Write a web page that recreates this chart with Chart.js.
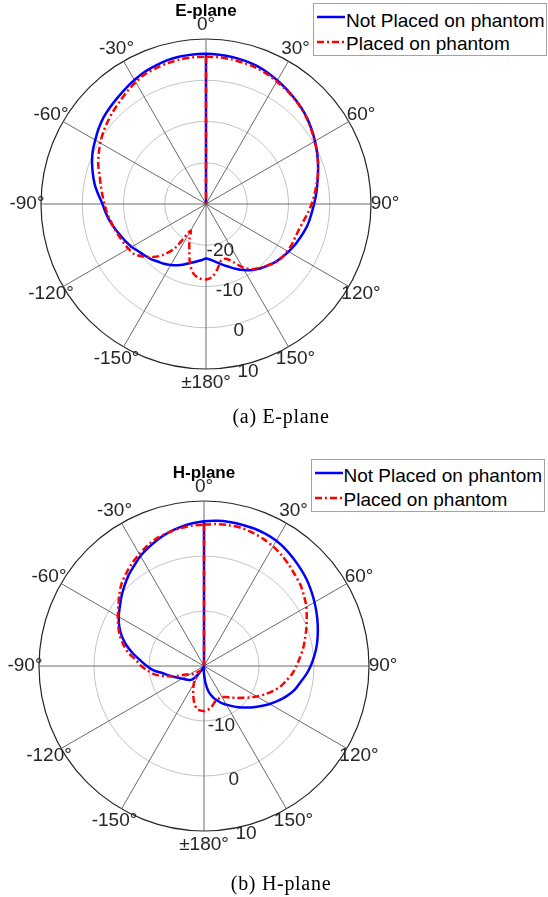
<!DOCTYPE html>
<html>
<head>
<meta charset="utf-8">
<script src="https://cdn.jsdelivr.net/npm/chart.js@4.4.1/dist/chart.umd.min.js"></script>
<style>
  html, body { margin: 0; padding: 0; background: #fff; }
  body { width: 548px; height: 897px; position: relative; overflow: hidden;
         font-family: "Liberation Sans", Arial, Helvetica, sans-serif; }
  .panel { position: absolute; left: 0; width: 548px; }
  .panel canvas { position: absolute; left: 0; top: 0; }
  .legend { position: absolute; width: 234px; height: 53px; box-sizing: border-box;
            background: #fff; border: 1px solid #a3a3a3; }
  .legend svg { position: absolute; left: 3px; }
  .legend span { position: absolute; left: 32px; font-size: 19px; line-height: 19px;
                 color: #000; white-space: nowrap; }
  .caption { position: absolute; left: 181px; width: 200px; text-align: center;
             font-family: "Liberation Serif", "Times New Roman", Times, serif;
             font-size: 20px; line-height: 20px; letter-spacing: 0.7px; color: #000; white-space: nowrap; }
</style>
</head>
<body>

<div class="panel" id="panelE" style="top:0;height:440px;">
  <canvas id="chartE" width="548" height="440"></canvas>
  <div class="legend" style="left:313px;top:3px;">
    <svg width="28" height="8" style="top:8.5px"><line x1="0" y1="4" x2="28" y2="4" stroke="#0000ff" stroke-width="2.5"/></svg>
    <span style="top:6.5px">Not Placed on phantom</span>
    <svg width="28" height="8" style="top:33.7px"><line x1="0" y1="4" x2="28" y2="4" stroke="#ff0000" stroke-width="2.5" stroke-dasharray="7 3 2 3"/></svg>
    <span style="top:29.6px">Placed on phantom</span>
  </div>
  <div class="caption" style="top:406px;">(a) E-plane</div>
</div>

<div class="panel" id="panelH" style="top:440px;height:457px;">
  <canvas id="chartH" width="548" height="457"></canvas>
  <div class="legend" style="left:310.5px;top:19px;">
    <svg width="28" height="8" style="top:8.5px"><line x1="0" y1="4" x2="28" y2="4" stroke="#0000ff" stroke-width="2.5"/></svg>
    <span style="top:5.5px">Not Placed on phantom</span>
    <svg width="28" height="8" style="top:33.5px"><line x1="0" y1="4" x2="28" y2="4" stroke="#ff0000" stroke-width="2.5" stroke-dasharray="7 3 2 3"/></svg>
    <span style="top:29.6px">Placed on phantom</span>
  </div>
  <div class="caption" style="top:873px;margin-top:-440px;">(b) H-plane</div>
</div>

<script>
// Angular grid: one category every 5 degrees, clockwise from the top (0 .. 355).
const thetaDeg = Array.from({ length: 72 }, (_, i) => i * 5);

// Angle tick labels for 0, 30, ..., 330 degrees.
const thetaTickLabels = ['0°', '30°', '60°', '90°', '120°', '150°', '±180°',
                         '-150°', '-120°', '-90°', '-60°', '-30°'];

// Radial tick labels (dB).
const eRadialTicks = [-20, -10, 0, 10];
const hRadialTicks = [-10, 0, 10];

// Gain in dB at 0°, 5°, ..., 180°, then -175°, ..., -5°.
const eNotPlaced = [
  6.4, 6.3, 6.2, 6.0, 5.7, 5.2, 4.6, 4.0, 3.4, 2.8, 2.1, 1.3, 0.5, -0.3, -1.1, -1.9, -2.6, -3.2,
  -3.8, -4.3, -4.7, -5.2, -5.8, -6.3, -6.9, -7.5, -8.1, -8.9, -9.6, -10.5, -11.5, -12.6, -13.8,
  -14.8, -15.7, -16.4, -16.8,
  -16.3, -15.8, -15.2, -14.4, -13.6, -12.9, -12.3, -11.8, -11.1, -10.6, -10.0, -9.2, -8.5, -7.9,
  -7.1, -6.3, -5.6, -4.9, -3.8, -2.6, -1.6, -0.6, 0.3, 1.0, 1.8, 2.5, 3.0, 3.5, 4.1, 4.7, 5.3,
  5.7, 6.1, 6.3, 6.4
];
const ePlaced = [
  5.7, 5.7, 5.6, 5.4, 5.2, 4.8, 4.3, 3.8, 3.3, 2.7, 2.0, 1.2, 0.4, -0.3, -1.1, -1.9, -2.8, -3.6,
  -4.4, -5.2, -6.0, -6.6, -6.9, -7.0, -7.2, -7.5, -8.0, -8.9, -9.8, -10.7, -12.3, -14.5, -15.9,
  -15.8, -14.0, -12.3, -11.7,
  -11.9, -12.8, -15.0, -18.2, -20.5, -22.5, -17.0, -13.9, -11.8, -10.2, -8.8, -8.3, -7.9, -7.5,
  -7.0, -6.5, -5.9, -5.4, -4.8, -4.1, -3.3, -2.2, -1.3, -0.4, 0.4, 1.1, 1.8, 2.5, 3.3, 4.1, 4.8,
  5.1, 5.4, 5.6, 5.7
];
const hNotPlaced = [
  6.3, 6.5, 6.6, 6.6, 6.6, 6.5, 6.3, 5.9, 5.4, 4.9, 4.4, 3.8, 3.2, 2.6, 2.0, 1.4, 0.8, 0.1,
  -0.6, -1.4, -2.3, -3.0, -4.0, -5.1, -6.2, -7.3, -8.3, -9.3, -10.2, -11.1, -11.9, -12.6, -13.4,
  -14.3, -15.3, -16.9, -18.6,
  -19.6, -19.8, -19.8, -19.8, -19.7, -19.3, -18.2, -16.9, -16.4, -16.1, -15.8, -15.4, -14.9, -14.2,
  -13.4, -12.4, -10.8, -9.6, -8.4, -6.9, -5.4, -4.1, -3.0, -2.1, -1.3, -0.4, 0.5, 1.4, 2.2, 3.1,
  3.8, 4.5, 5.1, 5.6, 6.0
];
const hPlaced = [
  5.7, 5.9, 6.0, 6.0, 5.8, 5.5, 5.1, 4.6, 4.0, 3.4, 2.9, 2.2, 1.5, 0.6, -0.2, -1.0, -1.7, -2.5,
  -3.2, -3.9, -4.8, -5.6, -6.7, -7.8, -8.9, -10.0, -11.0, -11.8, -12.5, -13.1, -13.5, -13.5, -13.4,
  -13.0, -12.4, -12.0, -11.8,
  -11.9, -12.2, -13.1, -14.3, -15.4, -16.3, -17.3, -18.8, -18.5, -17.9, -17.4, -17.0, -16.3, -14.7,
  -12.8, -11.0, -9.8, -8.6, -7.6, -6.0, -4.8, -3.7, -2.8, -1.9, -1.0, 0.1, 1.2, 2.0, 2.8, 3.5,
  4.2, 4.8, 5.1, 5.4, 5.6
];

const LABEL_FONT = '19px "Liberation Sans", Arial, Helvetica, sans-serif';
const TEXT_COLOR = '#262626';

// Radial segment from the boresight value at 0° down to the pole.
function boresightSpoke(series, rMin) {
  return thetaDeg.map((_, i) => (i === 0 ? series[0] : i === 1 ? rMin : null));
}

// Draws the angle labels and the radial dB labels around the polar grid.
const polarLabels = {
  id: 'polarLabels',
  afterDraw(chart, args, opts) {
    const s = chart.scales.r;
    const ctx = chart.ctx;
    ctx.save();
    ctx.font = LABEL_FONT;
    ctx.fillStyle = TEXT_COLOR;
    ctx.textAlign = 'center';
    ctx.textBaseline = 'middle';
    chart.data.labels.forEach((deg, i) => {
      if (deg % 30 !== 0) return;
      const p = s.getPointPosition(i, s.drawingArea + 14);
      ctx.fillText(thetaTickLabels[deg / 30], p.x, p.y);
    });
    const a = 167 * Math.PI / 180;
    opts.ticks.forEach(v => {
      const d = s.getDistanceFromCenterForValue(v);
      ctx.fillText(String(v), s.xCenter + d * Math.sin(a) + 5, s.yCenter - d * Math.cos(a) + 6.5);
    });
    ctx.restore();
  }
};

function makePolar(canvasId, title, notPlaced, placed, rMin, ticks, padding, titlePadding) {
  return new Chart(document.getElementById(canvasId), {
    type: 'radar',
    data: {
      labels: thetaDeg,
      datasets: [
        { label: 'Placed on phantom', data: boresightSpoke(placed, rMin),
          borderColor: '#ff0000', borderWidth: 2.5, borderDash: [7, 3, 2, 3], order: 0 },
        { label: 'Placed on phantom', data: placed,
          borderColor: '#ff0000', borderWidth: 2.5, borderDash: [7, 3, 2, 3], order: 1 },
        { label: 'Not Placed on phantom', data: boresightSpoke(notPlaced, rMin),
          borderColor: '#0000ff', borderWidth: 2.5, order: 2 },
        { label: 'Not Placed on phantom', data: notPlaced,
          borderColor: '#0000ff', borderWidth: 2.5, order: 3 }
      ]
    },
    options: {
      responsive: false,
      animation: false,
      spanGaps: false,
      layout: { padding },
      elements: {
        point: { radius: 0, hoverRadius: 0, hitRadius: 0 },
        line: { tension: 0.3, fill: false, borderJoinStyle: 'round', borderCapStyle: 'butt' }
      },
      plugins: {
        legend: { display: false },
        tooltip: { enabled: false },
        title: {
          display: true, text: title, color: '#000',
          font: { family: '"Liberation Sans", Arial, Helvetica, sans-serif', size: 17, weight: 'bold' },
          padding: titlePadding
        },
        polarLabels: { ticks }
      },
      scales: {
        r: {
          min: rMin, max: 10,
          ticks: { display: false, stepSize: 10 },
          pointLabels: { display: false },
          grid: {
            circular: true,
            color: c => (c.tick && c.tick.value === 10 ? '#262626' : '#c4c4c4'),
            lineWidth: c => (c.tick && c.tick.value === 10 ? 1.2 : 1)
          },
          angleLines: {
            color: '#5a5a5a',
            lineWidth: c => (thetaDeg[c.index] % 30 === 0 ? 0.9 : 0)
          }
        }
      }
    },
    plugins: [polarLabels]
  });
}

makePolar('chartE', 'E-plane', eNotPlaced, ePlaced, -30, eRadialTicks,
  { left: 41, right: 177, top: 0, bottom: 71 }, { top: 1, bottom: 17.6 });
makePolar('chartH', 'H-plane', hNotPlaced, hPlaced, -20, hRadialTicks,
  { left: 39, right: 179, top: 0, bottom: 66 }, { top: 23, bottom: 17.6 });
</script>
</body>
</html>
